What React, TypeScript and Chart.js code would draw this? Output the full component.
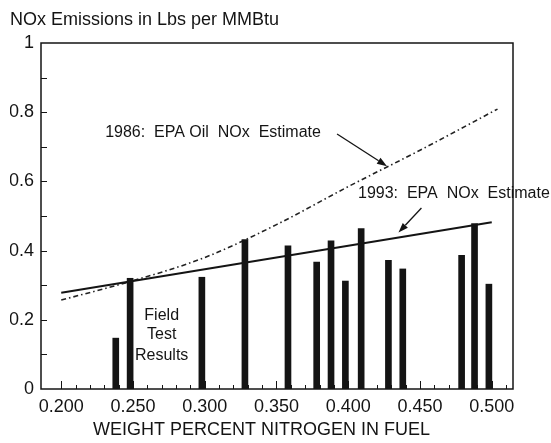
import React, { useEffect, useRef } from "react";
import { Chart, registerables } from "chart.js";

Chart.register(...registerables);

const FONT = '"Liberation Sans", Arial, Helvetica, sans-serif';
const INK = "#141414";

const chartTitle = "NOx Emissions in Lbs per MMBtu";
const xAxisTitle = "WEIGHT PERCENT NITROGEN IN FUEL";

const xTickValues = [0.2, 0.25, 0.3, 0.35, 0.4, 0.45, 0.5];
const xTickLabels = ["0.200", "0.250", "0.300", "0.350", "0.400", "0.450", "0.500"];
const yTickValues = [0, 0.2, 0.4, 0.6, 0.8, 1];
const yTickLabels = ["0", "0.2", "0.4", "0.6", "0.8", "1"];

// Field test results (bars)
const fieldNitrogen = [0.238, 0.248, 0.298, 0.328, 0.358, 0.378, 0.388, 0.398, 0.409, 0.428, 0.438, 0.479, 0.488, 0.498];
const fieldNOx = [0.147, 0.32, 0.323, 0.432, 0.414, 0.367, 0.428, 0.312, 0.464, 0.372, 0.347, 0.386, 0.478, 0.303];

// 1986: EPA Oil NOx Estimate (dash-dot curve)
const epa1986Nitrogen = [0.2, 0.25, 0.3, 0.35, 0.4, 0.45, 0.504];
const epa1986NOx = [0.257, 0.313, 0.38, 0.475, 0.585, 0.69, 0.809];

// 1993: EPA NOx Estimate (solid line)
const epa1993Nitrogen = [0.2, 0.5];
const epa1993NOx = [0.278, 0.482];

// Annotation anchors in data units
const noteTexts = ["1986:  EPA Oil  NOx  Estimate", "1993:  EPA  NOx  Estimate", "Field", "Test", "Results"];
const noteX = [0.2306, 0.4068, 0.27, 0.27, 0.27];
const noteY = [0.742, 0.565, 0.213, 0.156, 0.097];
const noteAlign: CanvasTextAlign[] = ["left", "left", "center", "center", "center"];

const arrowFromX = [0.3922, 0.451];
const arrowFromY = [0.737, 0.523];
const arrowToX = [0.427, 0.435];
const arrowToY = [0.644, 0.452];

const X_MIN = 0.1859;
const X_MAX = 0.5148;

const decorPlugin = {
  id: "decor",
  beforeDraw(chart: any) {
    const { ctx, width, height } = chart;
    ctx.save();
    ctx.fillStyle = "#ffffff";
    ctx.fillRect(0, 0, width, height);
    ctx.restore();
  },
  afterDraw(chart: any) {
    const { ctx, chartArea: a, scales } = chart;
    const xs = scales.x;
    const ys = scales.y;
    ctx.save();
    // frame
    ctx.strokeStyle = INK;
    ctx.lineWidth = 1.5;
    ctx.strokeRect(a.left, a.top, a.right - a.left, a.bottom - a.top);

    // x tick marks (inside)
    ctx.lineWidth = 1;
    for (let i = 0; i <= 31; i++) {
      const v = 0.2 + i * 0.01;
      const px = Math.round(xs.getPixelForValue(v)) + 0.5;
      const len = i % 5 === 0 ? 8 : 4;
      ctx.beginPath();
      ctx.moveTo(px, a.bottom);
      ctx.lineTo(px, a.bottom - len);
      ctx.stroke();
    }
    // y tick marks (inside)
    for (let i = 1; i <= 9; i++) {
      const py = Math.round(ys.getPixelForValue(i / 10)) + 0.5;
      ctx.beginPath();
      ctx.moveTo(a.left, py);
      ctx.lineTo(a.left + 6, py);
      ctx.stroke();
    }

    // annotations
    ctx.fillStyle = INK;
    ctx.font = `16px ${FONT}`;
    ctx.textBaseline = "middle";
    noteTexts.forEach((t, i) => {
      ctx.textAlign = noteAlign[i];
      ctx.fillText(t, xs.getPixelForValue(noteX[i]), ys.getPixelForValue(noteY[i]));
    });

    // arrows
    ctx.lineWidth = 1.3;
    for (let i = 0; i < arrowFromX.length; i++) {
      const x1 = xs.getPixelForValue(arrowFromX[i]);
      const y1 = ys.getPixelForValue(arrowFromY[i]);
      const x2 = xs.getPixelForValue(arrowToX[i]);
      const y2 = ys.getPixelForValue(arrowToY[i]);
      const ang = Math.atan2(y2 - y1, x2 - x1);
      const hl = 10;
      const hw = 3.5;
      const bx = x2 - hl * Math.cos(ang);
      const by = y2 - hl * Math.sin(ang);
      ctx.beginPath();
      ctx.moveTo(x1, y1);
      ctx.lineTo(bx, by);
      ctx.stroke();
      ctx.beginPath();
      ctx.moveTo(x2, y2);
      ctx.lineTo(bx + hw * Math.sin(ang), by - hw * Math.cos(ang));
      ctx.lineTo(bx - hw * Math.sin(ang), by + hw * Math.cos(ang));
      ctx.closePath();
      ctx.fill();
    }

    // x axis title
    ctx.font = `18px ${FONT}`;
    ctx.textAlign = "center";
    ctx.textBaseline = "middle";
    ctx.fillText(xAxisTitle, xs.getPixelForValue(0.3395), a.bottom + 41);
    ctx.restore();
  },
};

function lookupLabel(values: number[], labels: string[], v: number) {
  const i = values.findIndex((t) => Math.abs(t - v) < 1e-6);
  return i >= 0 ? labels[i] : "";
}

export default function App() {
  const ref = useRef<HTMLCanvasElement>(null);

  useEffect(() => {
    if (!ref.current) return;
    const chart = new Chart(ref.current, {
      type: "bar",
      data: {
        datasets: [
          {
            type: "line",
            label: "1993: EPA NOx Estimate",
            data: epa1993Nitrogen.map((x, i) => ({ x, y: epa1993NOx[i] })),
            borderColor: INK,
            borderWidth: 2,
            pointRadius: 0,
            fill: false,
            order: 1,
          } as any,
          {
            type: "line",
            label: "1986: EPA Oil NOx Estimate",
            data: epa1986Nitrogen.map((x, i) => ({ x, y: epa1986NOx[i] })),
            borderColor: "#222222",
            borderWidth: 1.6,
            borderDash: [5, 3, 1.5, 3],
            pointRadius: 0,
            fill: false,
            cubicInterpolationMode: "monotone",
            order: 2,
          } as any,
          {
            type: "bar",
            label: "Field Test Results",
            data: fieldNitrogen.map((x, i) => ({ x, y: fieldNOx[i] })),
            backgroundColor: INK,
            borderWidth: 0,
            barThickness: 6,
            order: 0,
          } as any,
        ],
      },
      options: {
        animation: false,
        responsive: false,
        devicePixelRatio: 1,
        events: [],
        layout: { padding: { top: 0, left: 10, right: 38, bottom: 0 } },
        plugins: {
          legend: { display: false },
          tooltip: { enabled: false },
          title: {
            display: true,
            text: chartTitle,
            align: "start",
            color: INK,
            font: { family: FONT, size: 18, weight: "normal", lineHeight: 1.2 },
            padding: { top: 9, bottom: 12.4 },
          },
        },
        scales: {
          x: {
            type: "linear",
            min: X_MIN,
            max: X_MAX,
            offset: false,
            afterBuildTicks: (s: any) => {
              s.ticks = xTickValues.map((v) => ({ value: v }));
            },
            afterFit: (s: any) => {
              s.height = 54;
            },
            ticks: {
              callback: (v: any) => lookupLabel(xTickValues, xTickLabels, Number(v)),
              color: INK,
              font: { family: FONT, size: 18 },
              padding: 7,
              maxRotation: 0,
              minRotation: 0,
              autoSkip: false,
            },
            grid: { display: false, drawTicks: false, offset: false },
            border: { display: false },
          },
          y: {
            type: "linear",
            min: 0,
            max: 1,
            afterBuildTicks: (s: any) => {
              s.ticks = yTickValues.map((v) => ({ value: v }));
            },
            afterFit: (s: any) => {
              s.width = 31;
            },
            ticks: {
              callback: (v: any) => lookupLabel(yTickValues, yTickLabels, Number(v)),
              color: INK,
              font: { family: FONT, size: 18 },
              padding: 7,
              autoSkip: false,
            },
            grid: { display: false, drawTicks: false },
            border: { display: false },
          },
        },
      } as any,
      plugins: [decorPlugin],
    });
    return () => chart.destroy();
  }, []);

  return (
    <div style={{ position: "absolute", left: 0, top: 0, width: 551, height: 443, background: "#fff" }}>
      <canvas ref={ref} width={551} height={443} style={{ display: "block", width: 551, height: 443 }} />
    </div>
  );
}
